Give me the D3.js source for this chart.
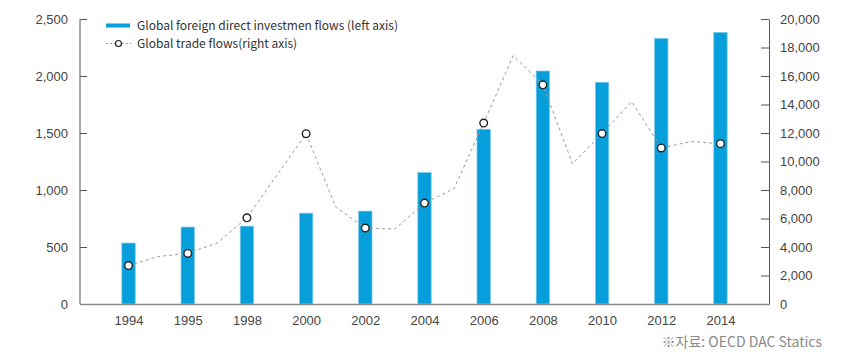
<!DOCTYPE html>
<html>
<head>
<meta charset="utf-8">
<script src="https://cdn.jsdelivr.net/npm/d3@7"></script>
<style>
  html, body { margin: 0; padding: 0; background: #fff; }
  svg { display: block; font-family: "Noto Sans CJK KR", "Noto Sans", sans-serif; }
</style>
</head>
<body>
<svg id="chart" width="849" height="352"></svg>
<script>
// Years shown on the horizontal axis
const years = ["1994", "1995", "1998", "2000", "2002", "2004", "2006", "2008", "2010", "2012", "2014"];

// Global foreign direct investment flows (left axis)
const fdiFlows = [535, 675, 683, 797, 815, 1153, 1533, 2044, 1945, 2330, 2383];

// Global trade flows (right axis): one value per year, plus the in-between readings
const tradeFlows = [2700, 3330, 3550, 4280, 6050, 9000, 11950, 6800, 5330, 5260, 7080,
                    8100, 12700, 17430, 15380, 9840, 11960, 14200, 10950, 11400, 11250];

const leftTicks = [0, 500, 1000, 1500, 2000, 2500];
const rightTicks = [0, 2000, 4000, 6000, 8000, 10000, 12000, 14000, 16000, 18000, 20000];

const legendLabels = ["Global foreign direct investmen flows (left axis)", "Global trade flows(right axis)"];
const sourceNote = "※자료: OECD DAC Statics";

const svg = d3.select("#chart");
const m = { left: 80, right: 769, top: 19, bottom: 304 };

const x = d3.scalePoint().domain(years).range([m.left, m.right]).padding(0.82);
const xi = d3.scaleLinear().domain([0, years.length - 1]).range([x(years[0]), x(years[years.length - 1])]);
const yL = d3.scaleLinear().domain([0, 2500]).range([m.bottom, m.top]);
const yR = d3.scaleLinear().domain([0, 20000]).range([m.bottom, m.top]);

const fmt = d3.format(",");

// Bars
const barW = 13.4;
svg.append("g").selectAll("rect").data(fdiFlows).join("rect")
  .attr("x", (d, i) => x(years[i]) - barW / 2)
  .attr("y", d => yL(d))
  .attr("width", barW)
  .attr("height", d => yL(0) - yL(d))
  .attr("fill", "#079fdb")
  .attr("stroke", "#7fcdee")
  .attr("stroke-width", 0.7);

// Left axis
const axL = svg.append("g").attr("transform", `translate(${m.left},0)`)
  .call(d3.axisLeft(yL).tickValues(leftTicks).tickFormat(fmt).tickSizeInner(-7).tickSizeOuter(0).tickPadding(12));
// Right axis
const axR = svg.append("g").attr("transform", `translate(${m.right},0)`)
  .call(d3.axisRight(yR).tickValues(rightTicks).tickFormat(fmt).tickSizeInner(-8).tickSizeOuter(0).tickPadding(11));
[axL, axR].forEach(ax => {
  ax.select(".domain").attr("stroke", "#555").attr("stroke-width", 1);
  ax.selectAll(".tick line").attr("stroke", "#555");
  ax.selectAll(".tick text").attr("fill", "#444").style("font-size", "13px").style("font-family", "inherit");
});
axL.select(".domain").attr("d", `M0,${m.top}H0V${m.bottom}`);

// Bottom axis
const axB = svg.append("g").attr("transform", `translate(0,${m.bottom})`)
  .call(d3.axisBottom(x).tickSize(0).tickPadding(12));
axB.select(".domain").attr("stroke", "#8a8a8a").attr("stroke-width", 1.4);
axB.selectAll(".tick text").attr("fill", "#444").style("font-size", "13px").style("font-family", "inherit");

// Trade flow line
const line = d3.line().x((d, i) => xi(i / 2)).y(d => yR(d));
svg.append("path").datum(tradeFlows)
  .attr("d", line)
  .attr("fill", "none")
  .attr("stroke", "#9a9a9a")
  .attr("stroke-width", 1)
  .attr("stroke-dasharray", "3,3");

// Markers at the labelled years
svg.append("g").selectAll("circle").data(tradeFlows.filter((d, i) => i % 2 === 0)).join("circle")
  .attr("cx", (d, i) => xi(i))
  .attr("cy", d => yR(d))
  .attr("r", 3.8)
  .attr("fill", "#fff")
  .attr("stroke", "#222")
  .attr("stroke-width", 1.4);

// Legend
const lg = svg.append("g");
lg.append("rect").attr("x", 106).attr("y", 23.5).attr("width", 24).attr("height", 4).attr("fill", "#079fdb");
lg.append("text").attr("x", 137).attr("y", 25.5).attr("dy", "0.35em")
  .attr("fill", "#333").style("font-size", "12px").text(legendLabels[0]);
lg.append("line").attr("x1", 106).attr("x2", 131).attr("y1", 43.5).attr("y2", 43.5)
  .attr("stroke", "#9a9a9a").attr("stroke-dasharray", "2,2");
lg.append("circle").attr("cx", 118.5).attr("cy", 43.5).attr("r", 3)
  .attr("fill", "#fff").attr("stroke", "#222").attr("stroke-width", 1.2);
lg.append("text").attr("x", 137).attr("y", 43.5).attr("dy", "0.35em")
  .attr("fill", "#333").style("font-size", "12px").text(legendLabels[1]);

// Source note
svg.append("text").attr("x", 822).attr("y", 342).attr("dy", "0.35em")
  .attr("text-anchor", "end").attr("fill", "#8a8a8a").style("font-size", "14px").text(sourceNote);
</script>
</body>
</html>
